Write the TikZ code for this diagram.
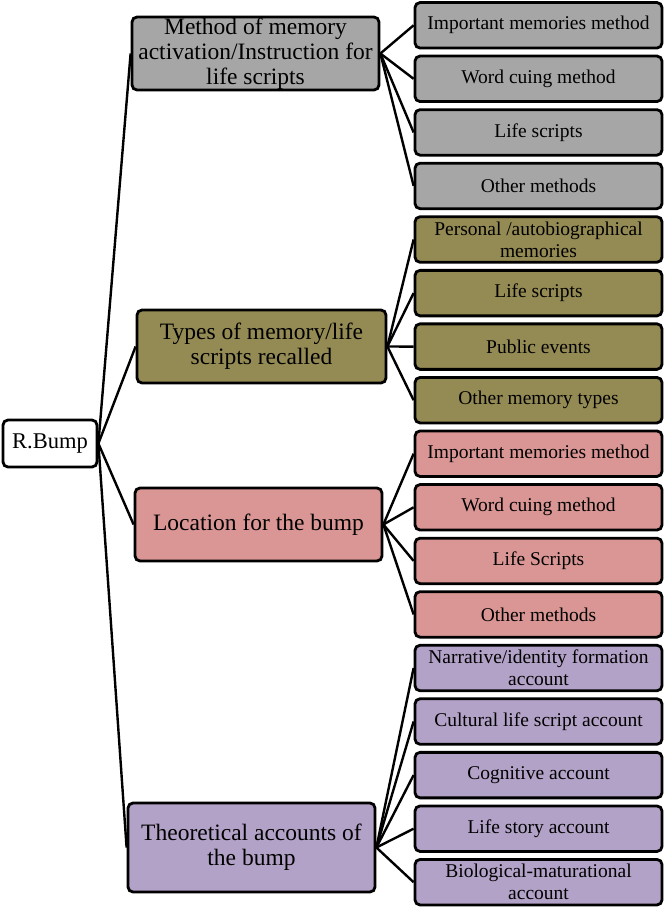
\documentclass[tikz,border=0pt]{standalone}
\usepackage{fontspec}
\setmainfont{Liberation Serif}
\usepackage{xcolor}
\usepackage{tikz}

\definecolor{methodgray}{HTML}{A6A6A6}
\definecolor{typeolive}{HTML}{948A54}
\definecolor{locpink}{HTML}{D99694}
\definecolor{theorypurple}{HTML}{B3A2C7}

\tikzset{
  box/.style={draw=black, line width=2.8pt, rounded corners=5pt, align=center, inner sep=0pt},
  rootbox/.style={box, fill=white, minimum width=94pt, minimum height=47pt, font=\fontsize{22.5}{24}\selectfont},
  headbox/.style={box, minimum width=247pt, minimum height=73pt, font=\fontsize{23.5}{25}\selectfont},
  leafbox/.style={box, minimum width=247pt, minimum height=45.5pt, font=\fontsize{19.5}{22}\selectfont},
  link/.style={line width=2.4pt}
}

\begin{document}
\begin{tikzpicture}[x=1pt,y=-1pt]
    \useasboundingbox (0,0) rectangle (668,908);

    % root and the four branches
    \node[rootbox] (bump) at (50,443.5) {R.Bump};
    \node[headbox, fill=methodgray] (method) at (255.5,53.5) {Method of memory\\activation/Instruction for\\life scripts};
    \node[headbox, fill=typeolive, minimum width=249pt] (types) at (261.5,346.5) {Types of memory/life\\scripts recalled};
    \node[headbox, fill=locpink] (location) at (258.5,524.5) {Location for the bump};
    \node[headbox, fill=theorypurple, minimum height=89pt] (theory) at (251.5,847.5) {Theoretical accounts of\\the bump};

    % leaves
    \node[leafbox, fill=methodgray] (mimp) at (538.5,25.3) {Important memories method};
    \node[leafbox, fill=methodgray] (mword) at (538.5,78.8) {Word cuing method};
    \node[leafbox, fill=methodgray] (mlife) at (538.5,132.4) {Life scripts};
    \node[leafbox, fill=methodgray] (mother) at (538.5,185.9) {Other methods};

    \node[leafbox, fill=typeolive] (tpers) at (538.5,239.5) {Personal /autobiographical\\memories};
    \node[leafbox, fill=typeolive] (tlife) at (538.5,293.1) {Life scripts};
    \node[leafbox, fill=typeolive] (tpub) at (538.5,346.6) {Public events};
    \node[leafbox, fill=typeolive] (tother) at (538.5,400.2) {Other memory types};

    \node[leafbox, fill=locpink] (limp) at (538.5,453.7) {Important memories method};
    \node[leafbox, fill=locpink] (lword) at (538.5,507.3) {Word cuing method};
    \node[leafbox, fill=locpink] (llife) at (538.5,560.9) {Life Scripts};
    \node[leafbox, fill=locpink] (lother) at (538.5,614.4) {Other methods};

    \node[leafbox, fill=theorypurple] (anarr) at (538.5,668.0) {Narrative/identity formation\\account};
    \node[leafbox, fill=theorypurple] (acult) at (538.5,721.5) {Cultural life script account};
    \node[leafbox, fill=theorypurple] (acog) at (538.5,775.1) {Cognitive account};
    \node[leafbox, fill=theorypurple] (astory) at (538.5,828.7) {Life story account};
    \node[leafbox, fill=theorypurple] (abio) at (538.5,882.2) {Biological-maturational\\account};

    % connectors
    \draw[link] (bump.east) -- (method.west);
    \draw[link] (bump.east) -- (types.west);
    \draw[link] (bump.east) -- (location.west);
    \draw[link] (bump.east) -- (theory.west);

    \draw[link] (method.east) -- (mimp.west);
    \draw[link] (method.east) -- (mword.west);
    \draw[link] (method.east) -- (mlife.west);
    \draw[link] (method.east) -- (mother.west);

    \draw[link] (types.east) -- (tpers.west);
    \draw[link] (types.east) -- (tlife.west);
    \draw[link] (types.east) -- (tpub.west);
    \draw[link] (types.east) -- (tother.west);

    \draw[link] (location.east) -- (limp.west);
    \draw[link] (location.east) -- (lword.west);
    \draw[link] (location.east) -- (llife.west);
    \draw[link] (location.east) -- (lother.west);

    \draw[link] (theory.east) -- (anarr.west);
    \draw[link] (theory.east) -- (acult.west);
    \draw[link] (theory.east) -- (acog.west);
    \draw[link] (theory.east) -- (astory.west);
    \draw[link] (theory.east) -- (abio.west);
  \end{tikzpicture}
\end{document}
